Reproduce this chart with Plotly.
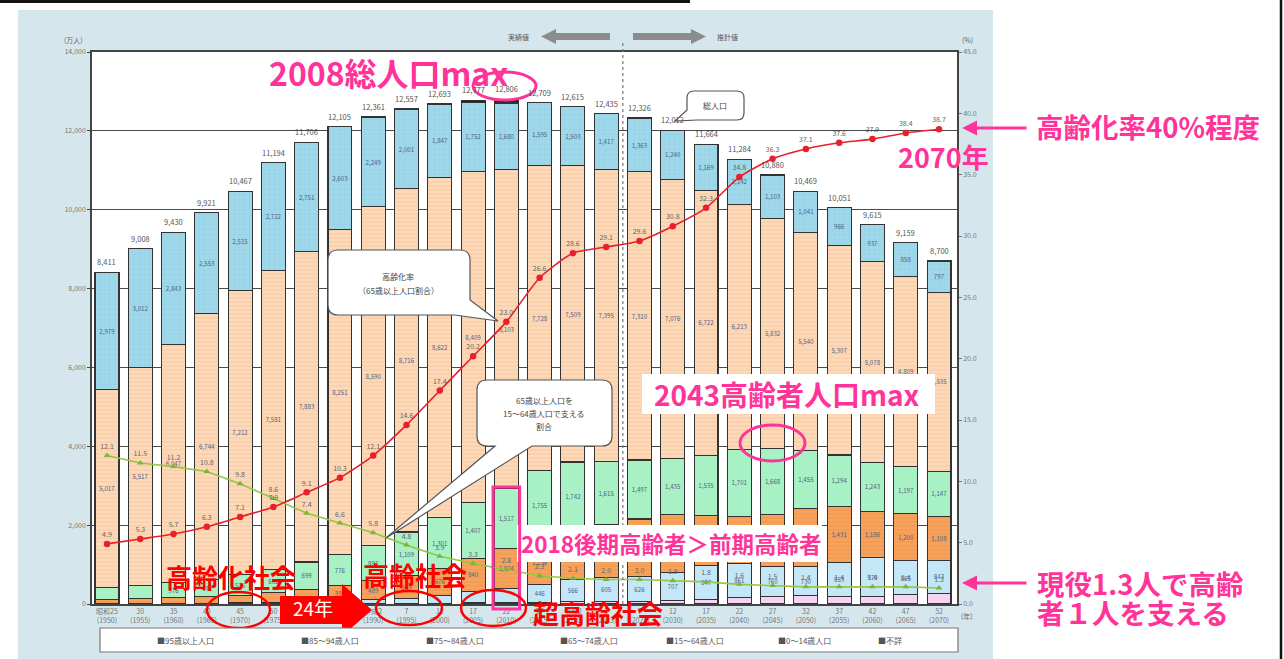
import plotly.graph_objects as go

# ---- data (万人) -------------------------------------------------------
eras = ["昭和25", "30", "35", "40", "45", "50", "55", "60", "平成2", "7", "12", "17",
        "22", "27", "令和2", "5", "7", "12", "17", "22", "27", "32", "37", "42", "47", "52"]
years = [1950, 1955, 1960, 1965, 1970, 1975, 1980, 1985, 1990, 1995, 2000, 2005, 2010,
         2015, 2020, 2023, 2025, 2030, 2035, 2040, 2045, 2050, 2055, 2060, 2065, 2070]

age_0_14 = [2979, 3012, 2843, 2553, 2515, 2722, 2751, 2603, 2249, 2001, 1847, 1752, 1680,
            1595, 1503, 1417, 1363, 1240, 1169, 1142, 1103, 1041, 966, 937, 858, 797]
age_15_64 = [5017, 5517, 6047, 6744, 7212, 7581, 7883, 8251, 8590, 8716, 8622, 8409, 8103,
             7728, 7509, 7395, 7310, 7076, 6722, 6213, 5832, 5540, 5307, 5078, 4809, 4535]
age_65_74 = [309, 338, 376, 438, 516, 602, 699, 776, 892, 1109, 1301, 1407, 1517,
             1755, 1742, 1615, 1497, 1435, 1535, 1701, 1668, 1455, 1294, 1243, 1197, 1147]
age_75_84 = [99, 130, 151, 169, 199, 247, 313, 395, 489, 569, 676, 840, 1024,
             1136, 1240, 1343, 1459, 1459, 1270, 1201, 1317, 1487, 1431, 1186, 1200, 1108]
age_85_94 = [7, 9, 13, 17, 24, 36, 51, 73, 102, 138, 208, 295, 346,
             446, 566, 605, 626, 707, 847, 861, 760, 730, 853, 970, 865, 843]
age_95_up = [0, 0, 0, 0, 1, 1, 2, 3, 6, 10, 16, 25, 37,
             49, 54, 60, 70, 95, 120, 165, 200, 215, 200, 200, 230, 270]
unknown = [0, 2, 0, 0, 0, 5, 7, 4, 33, 14, 23, 49, 99,
           0, 1, 0, 1, 0, 1, 1, 0, 1, 0, 1, 0, 0]

# 高齢化率 (%)
aging_rate = [4.9, 5.3, 5.7, 6.3, 7.1, 7.9, 9.1, 10.3, 12.1, 14.6, 17.4, 20.2, 23.0,
              26.6, 28.6, 29.1, 29.6, 30.8, 32.3, 34.8, 36.3, 37.1, 37.6, 37.9, 38.4, 38.7]
# 65歳以上人口1人を支える15～64歳人口 (人)
support_ratio = [12.1, 11.5, 11.2, 10.8, 9.8, 8.6, 7.4, 6.6, 5.8, 4.8, 3.9, 3.3, 2.8,
                 2.3, 2.1, 2.0, 2.0, 1.9, 1.8, 1.6, 1.5, 1.4, 1.4, 1.4, 1.4, 1.3]

categories = [f"{e}<br>({y})" for e, y in zip(eras, years)]
totals = [sum(v) for v in zip(age_0_14, age_15_64, age_65_74, age_75_84,
                              age_85_94, age_95_up, unknown)]

FONT = "Noto Sans CJK JP"
PINK = "#ff3399"
RED = "#ff0000"

# plot area in pixels
W, H = 1284, 659
L, R, T, B = 92, 957, 52, 604


def PX(x):
    return (x - L) / (R - L)


def PY(y):
    return (B - y) / (B - T)


def p(x, y):
    return f"{PX(x):.5f},{PY(y):.5f}"


fig = go.Figure()

# ---- stacked bars ------------------------------------------------------
stripe = dict(shape="-", size=4, solidity=0.22, fillmode="overlay")
series = [
    ("95歳以上人口", age_95_up, "#f4d4f0", None),
    ("85～94歳人口", age_85_94, "#c4e7f8", None),
    ("75～84歳人口", age_75_84, "#f7a35c", dict(stripe, fgcolor="#e0883c")),
    ("65～74歳人口", age_65_74, "#a8f1c5", None),
    ("15～64歳人口", age_15_64, "#fdd9b8", dict(stripe, fgcolor="#eab58a")),
    ("0～14歳人口", age_0_14, "#9fd8ea",
     dict(shape="+", size=5, solidity=0.12, fillmode="overlay", fgcolor="#79bcd1")),
    ("不詳", unknown, "#222222", None),
]
for name, vals, color, pattern in series:
    marker = dict(color=color, line=dict(color="#333333", width=1.1))
    if pattern:
        marker["pattern"] = pattern
    fig.add_trace(go.Bar(
        x=categories, y=vals, name=name, marker=marker,
        texttemplate="%{y:,}" if name != "不詳" else None,
        textposition="inside" if name != "不詳" else "none",
        insidetextanchor="middle", textangle=0,
        textfont=dict(size=7, color="#4f6286", family=FONT),
    ))

# support ratio line (green) on the right axis
fig.add_trace(go.Scatter(
    x=categories, y=support_ratio, yaxis="y2", mode="lines+markers+text",
    line=dict(color="#94c840", width=1.6),
    marker=dict(symbol="triangle-up", size=6, color="#7cb342"),
    text=[f"{v:.1f}" for v in support_ratio], textposition="top center",
    textfont=dict(size=7, color="#666666", family=FONT),
))

# aging rate line (red) on the right axis
fig.add_trace(go.Scatter(
    x=categories, y=aging_rate, yaxis="y2", mode="lines+markers+text",
    line=dict(color="#e8202a", width=1.6, shape="spline", smoothing=0.6),
    marker=dict(size=6.5, color="#e8202a"),
    text=[f"{v:.1f}" for v in aging_rate], textposition="top center",
    textfont=dict(size=7, color="#666666", family=FONT),
))

# ---- decorations -------------------------------------------------------
shapes = [
    # light blue panel and white plot area
    dict(type="rect", xref="paper", yref="paper", x0=PX(18), x1=PX(993), y0=PY(662), y1=PY(10),
         fillcolor="#d5e7ed", line=dict(width=0), layer="below"),
    dict(type="rect", xref="paper", yref="paper", x0=0, x1=1, y0=0, y1=1,
         fillcolor="white", line=dict(width=0), layer="below"),
    # frame lines of the slide
    dict(type="line", xref="paper", yref="paper", x0=PX(0), x1=PX(690), y0=PY(1.5), y1=PY(1.5),
         line=dict(color="#111111", width=3)),
    dict(type="line", xref="paper", yref="paper", x0=PX(1281), x1=PX(1281), y0=PY(0), y1=PY(660),
         line=dict(color="#111111", width=2.5)),
    # boundary between actual and projected values
    dict(type="line", xref="x", yref="paper", x0=15.5, x1=15.5, y0=0, y1=PY(42),
         line=dict(color="#777777", width=1.2, dash="dot")),
    # header arrows
    dict(type="path", xref="paper", yref="paper",
         path=f"M{p(541, 36.5)} L{p(556, 29)} L{p(556, 33)} L{p(610, 33)} L{p(610, 40)} "
              f"L{p(556, 40)} L{p(556, 44)} Z",
         fillcolor="#8c8c8c", line=dict(width=0)),
    dict(type="path", xref="paper", yref="paper",
         path=f"M{p(706, 36.5)} L{p(691, 29)} L{p(691, 33)} L{p(633, 33)} L{p(633, 40)} "
              f"L{p(691, 40)} L{p(691, 44)} Z",
         fillcolor="#8c8c8c", line=dict(width=0)),
    # callout: 高齢化率
    dict(type="path", xref="paper", yref="paper",
         path=f"M{p(338, 250)} L{p(460, 250)} Q{p(470, 250)} {p(470, 260)} L{p(470, 300)} "
              f"L{p(498, 321)} L{p(455, 315)} L{p(338, 315)} Q{p(328, 315)} {p(328, 305)} "
              f"L{p(328, 260)} Q{p(328, 250)} {p(338, 250)} Z",
         fillcolor="white", line=dict(color="#555555", width=1.2)),
    # callout: 支える割合
    dict(type="path", xref="paper", yref="paper",
         path=f"M{p(487, 380)} L{p(602, 380)} Q{p(612, 380)} {p(612, 390)} L{p(612, 436)} "
              f"Q{p(612, 446)} {p(602, 446)} L{p(532, 446)} L{p(386, 538)} L{p(495, 446)} "
              f"L{p(487, 446)} Q{p(477, 446)} {p(477, 436)} L{p(477, 390)} "
              f"Q{p(477, 380)} {p(487, 380)} Z",
         fillcolor="white", line=dict(color="#555555", width=1.2)),
    # callout: 総人口
    dict(type="path", xref="paper", yref="paper",
         path=f"M{p(694, 91)} L{p(737, 91)} Q{p(744, 91)} {p(744, 98)} L{p(744, 113)} "
              f"Q{p(744, 120)} {p(737, 120)} L{p(697, 120)} L{p(675, 121)} L{p(687, 110)} "
              f"L{p(687, 98)} Q{p(687, 91)} {p(694, 91)} Z",
         fillcolor="white", line=dict(color="#555555", width=1.2)),
    # white boxes behind the pink notes
    dict(type="rect", xref="paper", yref="paper", x0=PX(642), x1=PX(935), y0=PY(414), y1=PY(374),
         fillcolor="white", line=dict(width=0)),
    dict(type="rect", xref="paper", yref="paper", x0=PX(517), x1=PX(822), y0=PY(562), y1=PY(525),
         fillcolor="white", line=dict(width=0)),
    # pink highlights
    dict(type="circle", xref="paper", yref="paper", x0=PX(473), x1=PX(536), y0=PY(100), y1=PY(72),
         line=dict(color=PINK, width=3)),
    dict(type="circle", xref="paper", yref="paper", x0=PX(740), x1=PX(805), y0=PY(461), y1=PY(425),
         line=dict(color=PINK, width=3)),
    dict(type="rect", xref="x", yref="paper", x0=11.6, x1=12.4, y0=PY(609), y1=PY(487),
         line=dict(color=PINK, width=3)),
    # red ellipses around the milestone years
    dict(type="circle", xref="paper", yref="paper", x0=PX(207), x1=PX(270), y0=PY(628), y1=PY(592),
         line=dict(color=RED, width=2.5)),
    dict(type="circle", xref="paper", yref="paper", x0=PX(376), x1=PX(442), y0=PY(625), y1=PY(591),
         line=dict(color=RED, width=2.5)),
    dict(type="circle", xref="paper", yref="paper", x0=PX(461), x1=PX(526), y0=PY(626), y1=PY(590),
         line=dict(color=RED, width=2.5)),
    # red block arrow (24年)
    dict(type="path", xref="paper", yref="paper",
         path=f"M{p(280, 596)} L{p(342, 596)} L{p(342, 584)} L{p(372, 610)} L{p(342, 636)} "
              f"L{p(342, 624)} L{p(280, 624)} Z",
         fillcolor=RED, line=dict(width=0)),
    # legend box
    dict(type="rect", xref="paper", yref="paper", x0=PX(100), x1=PX(958), y0=PY(652), y1=PY(628),
         fillcolor="white", line=dict(color="#777777", width=1.2)),
]

annotations = []

# totals above the bars
for cat, tot in zip(categories, totals):
    annotations.append(dict(
        x=cat, y=tot, xref="x", yref="y", text=f"{tot:,}", showarrow=False,
        yanchor="bottom", yshift=3, font=dict(size=7.5, color="#555555", family=FONT)))


def ann(x, y, text, size, color, bold=False, xanchor="center", **kw):
    annotations.append(dict(
        x=PX(x), y=PY(y), xref="paper", yref="paper", text=f"<b>{text}</b>" if bold else text,
        showarrow=False, xanchor=xanchor, yanchor="middle",
        font=dict(size=size, color=color, family=FONT), **kw))


# axis units and header
ann(73, 40, "(万人)", 7, "#666666")
ann(967, 40, "(%)", 7, "#666666")
ann(967, 616, "(年)", 7, "#666666")
ann(518, 37, "実績値", 7, "#555555")
ann(727, 37, "推計値", 7, "#555555")

# callout texts
ann(398, 276, "高齢化率", 8, "#444444")
ann(398, 290, "（65歳以上人口割合）", 8, "#444444")
ann(544, 400, "65歳以上人口を", 8, "#444444")
ann(544, 413, "15～64歳人口で支える", 8, "#444444")
ann(544, 426, "割合", 8, "#444444")
ann(715, 105, "総人口", 8, "#444444")

# pink notes
ann(388, 72, "2008総人口max", 32, PINK, bold=True)
ann(1148, 126, "高齢化率40%程度", 27.5, PINK, bold=True)
ann(943, 157, "2070年", 27, PINK, bold=True)
ann(787, 394, "2043高齢者人口max", 28, PINK, bold=True)
ann(671, 543, "2018後期高齢者＞前期高齢者", 22.5, PINK, bold=True)
ann(1035, 583, "現役1.3人で高齢", 27.5, PINK, bold=True, xanchor="left")
ann(1035, 612, "者１人を支える", 27.5, PINK, bold=True, xanchor="left")

# red notes
ann(231, 576, "高齢化社会", 26, RED, bold=True)
ann(415, 574, "高齢社会", 26, RED, bold=True)
ann(598, 612, "超高齢社会", 26, RED, bold=True)
ann(313, 607, "24年", 19, "white")

# pink pointer arrows
for y in (128, 583):
    annotations.append(dict(
        x=PX(962), y=PY(y), xref="paper", yref="paper", text="", showarrow=True,
        ax=66, ay=0, arrowhead=2, arrowsize=1, arrowwidth=3, arrowcolor=PINK))

# legend entries
legend_items = [("■95歳以上人口", 185), ("■85～94歳人口", 330), ("■75～84歳人口", 455),
                ("■65～74歳人口", 589), ("■15～64歳人口", 695), ("■0～14歳人口", 804),
                ("■不詳", 890)]
for txt, x in legend_items:
    ann(x, 640, txt, 8, "#555555")

fig.update_layout(
    width=W, height=H,
    margin=dict(l=L, r=W - R, t=T, b=H - B, autoexpand=False),
    paper_bgcolor="white", plot_bgcolor="white",
    barmode="stack", bargap=0.28,
    showlegend=False,
    font=dict(family=FONT, size=8, color="#555555"),
    uniformtext=dict(minsize=6, mode="hide"),
    xaxis=dict(type="category", categoryorder="array", categoryarray=categories,
               range=[-0.45, 25.54], showgrid=False, showline=True, mirror=True,
               linecolor="#444444", linewidth=1.5, ticks="",
               tickfont=dict(size=7, color="#777777")),
    yaxis=dict(range=[0, 14000], tickvals=list(range(0, 14001, 2000)), tickformat=",",
               showgrid=True, gridcolor="#4a4a4a", gridwidth=1.2, zeroline=False,
               showline=True, linecolor="#444444", linewidth=1.5,
               ticks="outside", ticklen=3, tickcolor="#444444",
               tickfont=dict(size=7, color="#777777")),
    yaxis2=dict(overlaying="y", side="right", range=[0, 45],
                tickvals=list(range(0, 46, 5)), tickformat=".1f",
                showgrid=False, zeroline=False, showline=True, linecolor="#444444",
                linewidth=1.5, ticks="outside", ticklen=3, tickcolor="#777777",
                tickfont=dict(size=7, color="#777777")),
    shapes=shapes, annotations=annotations,
)

fig.write_html("out.html")
